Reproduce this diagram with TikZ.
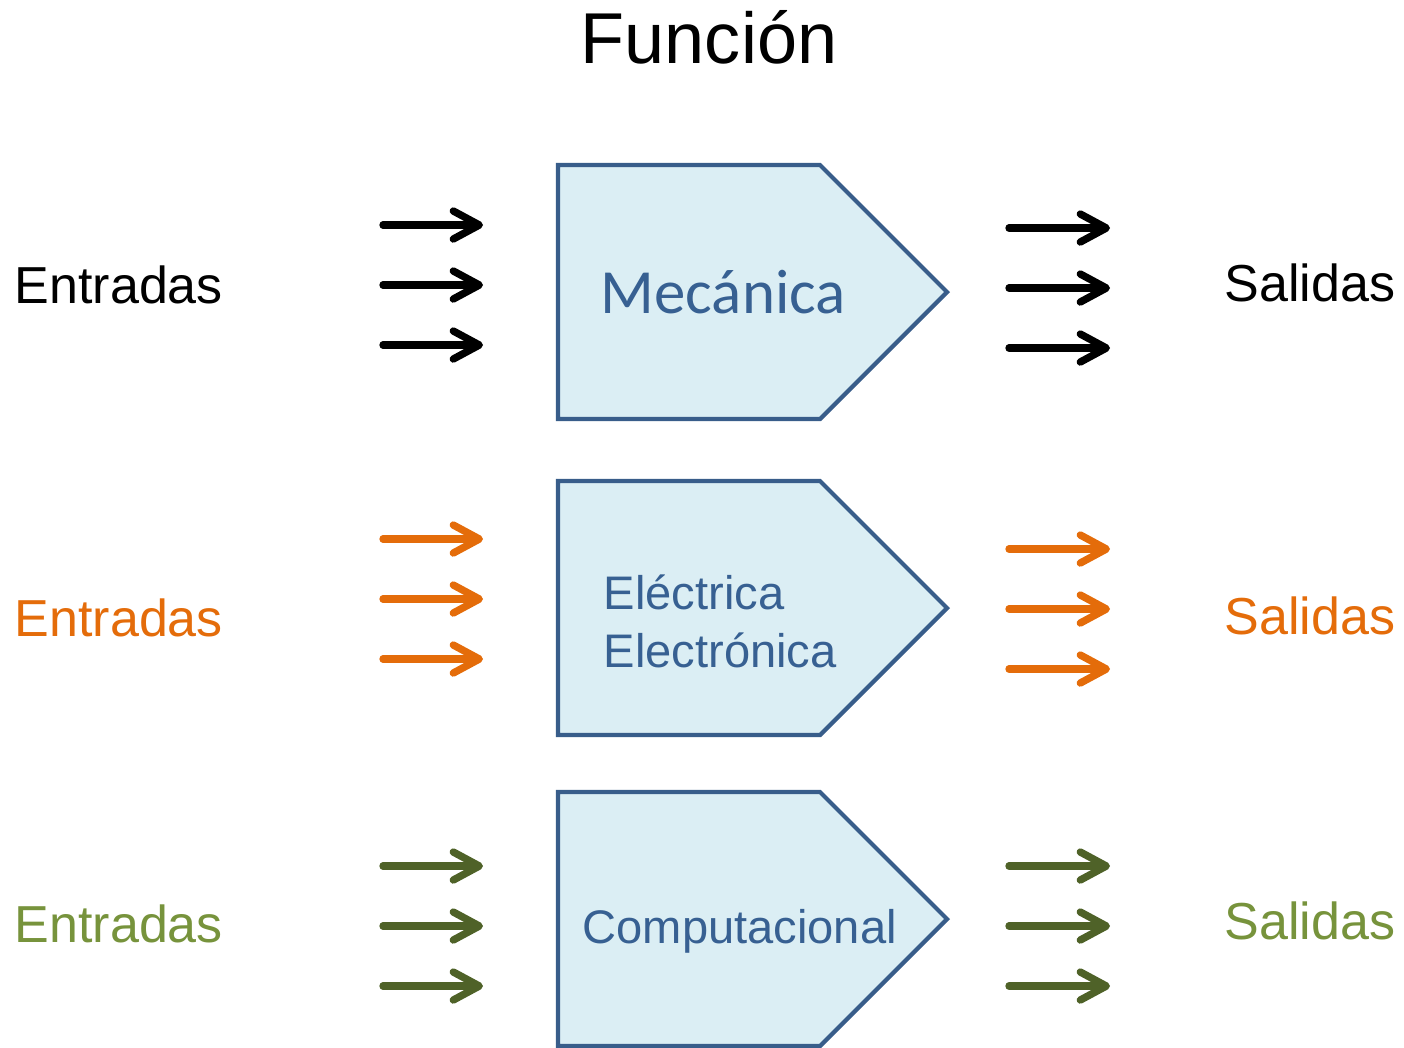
\documentclass[tikz,border=0pt]{standalone}
\usepackage{fontspec}
\setmainfont{Liberation Sans}
\newfontfamily\calibrifont{Carlito}
\usetikzlibrary{positioning,shapes.symbols,arrows.meta}

\definecolor{boxfill}{HTML}{DBEEF4}
\definecolor{boxline}{HTML}{385D8A}
\definecolor{boxtext}{HTML}{376092}
\definecolor{naranja}{HTML}{E46C0A}
\definecolor{verdeflecha}{HTML}{4F6228}
\definecolor{verdetexto}{HTML}{77933C}

\tikzset{
  func/.style={signal, signal to=east, signal pointer angle=90,
    draw=boxline, fill=boxfill, line width=1.2pt,
    minimum width=3.89cm, minimum height=2.54cm, inner sep=0pt},
  flow/.style={line width=2.1pt, line cap=round,
    -{Straight Barb[length=2.6mm,width=2.8mm,line cap=round,line join=round]}},
  side/.style={font=\fontsize{14.8}{17}\selectfont, anchor=base west, inner sep=0pt},
  boxtxt/.style={font=\fontsize{13.4}{16}\selectfont, text=boxtext, anchor=base west, inner sep=0pt}
}

\begin{document}
\begin{tikzpicture}
\useasboundingbox (0,0) rectangle (14.04,-10.47);

% Title
  \node[font=\fontsize{20.5}{24}\selectfont, anchor=base, inner sep=0pt] (titulo) at (7.09,-0.63) {Función}; %

% Boxes
  \node[func] (mec)  at (6.89,-2.92) {}; %
  \node[func] (elec) at (6.89,-6.08) {}; %
  \node[func] (comp) at (6.89,-9.19) {}; %

  \node[boxtxt, font=\calibrifont\fontsize{17.9}{20}\selectfont] (mectxt) at (6.00,-3.13) {Mecánica}; %
  \node[boxtxt] (electxt)  at (6.03,-6.09) {Eléctrica}; %
  \node[boxtxt] (electtxt) at (6.03,-6.67) {Electrónica}; %
  \node[boxtxt] (comptxt)  at (5.82,-9.43) {Computacional}; %

% Labels
  \node[side]                    (ent1) at (0.14,-3.03) {Entradas}; %
  \node[side, text=naranja]      (ent2) at (0.14,-6.36) {Entradas}; %
  \node[side, text=verdetexto]   (ent3) at (0.14,-9.42) {Entradas}; %
  \node[side]                    (sal1) at (12.24,-3.01) {Salidas}; %
  \node[side, text=naranja]      (sal2) at (12.24,-6.34) {Salidas}; %
  \node[side, text=verdetexto]   (sal3) at (12.24,-9.39) {Salidas}; %

% Arrows
  \foreach \r/\c/\yl/\yr in {a/black/2.25/2.28, b/naranja/5.39/5.49, c/verdeflecha/8.66/8.66} {
    \foreach \k/\d in {1/0,2/0.6,3/1.2} {
      \coordinate (\r in\k s)  at (3.83,{-\yl-\d});
      \coordinate (\r in\k e)  at (4.83,{-\yl-\d});
      \coordinate (\r out\k s) at (10.09,{-\yr-\d});
      \coordinate (\r out\k e) at (11.10,{-\yr-\d});
      \draw[flow, \c] (\r in\k s) -- (\r in\k e);
      \draw[flow, \c] (\r out\k s) -- (\r out\k e);
    }
  }

\end{tikzpicture}
\end{document}
